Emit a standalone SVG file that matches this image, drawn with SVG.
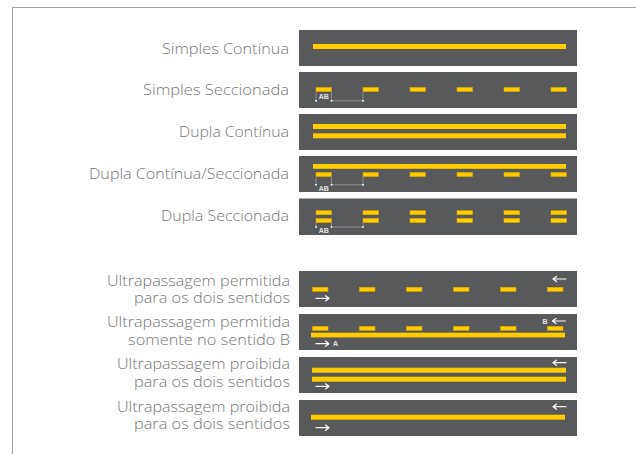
<svg xmlns="http://www.w3.org/2000/svg" width="636" height="454" viewBox="0 0 636 454">
<style>
.bg{fill:#ffffff}
.frame{fill:none;stroke:#a6a6a6;stroke-width:1}
.road{fill:#58595b}
.ln{fill:#ffcc00}
.dash{fill:#ffcc00;stroke:#e0a800;stroke-width:0.6}
.lbl{font-family:"Open Sans","Liberation Sans",sans-serif;font-weight:300;font-size:14px;fill:#767676;text-anchor:end}
.dim{fill:none;stroke:#9a9a9a;stroke-width:0.8}
.dot{fill:#ffffff}
.ab{font-family:"Liberation Sans","DejaVu Sans",sans-serif;font-weight:bold;font-size:7px;fill:#e6e6e6;text-anchor:middle}
.arr{fill:none;stroke:#ffffff;stroke-width:1.2;stroke-linecap:round;stroke-linejoin:round}
</style>
<defs>
<g id="dashrow">
<rect class="dash" x="0" y="0" width="15.5" height="4"/>
<rect class="dash" x="47" y="0" width="15.5" height="4"/>
<rect class="dash" x="94" y="0" width="15.5" height="4"/>
<rect class="dash" x="141" y="0" width="15.5" height="4"/>
<rect class="dash" x="188" y="0" width="15.5" height="4"/>
<rect class="dash" x="235" y="0" width="15.5" height="4"/>
</g>
<path id="ar" class="arr" d="M0,0 H13 M9.5,-2.6 L13,0 L9.5,2.6"/>
<path id="al" class="arr" d="M13,0 H0 M3.5,-2.6 L0,0 L3.5,2.6"/>
</defs>
<rect class="bg" width="636" height="454"/>
<rect class="frame" x="12.5" y="7.5" width="640" height="460"/>

<g id="row1">
<text class="lbl" x="289" y="54" textLength="127" lengthAdjust="spacingAndGlyphs">Simples Contínua</text>
<rect class="road" x="299" y="30" width="278" height="36"/>
<rect class="ln" x="313" y="44" width="253" height="5"/>
</g>

<g id="row2">
<text class="lbl" x="289" y="95" textLength="146" lengthAdjust="spacingAndGlyphs">Simples Seccionada</text>
<rect class="road" x="299" y="72" width="278" height="36"/>
<use href="#dashrow" x="316" y="87.5"/>
<path class="dim" d="M316,92 V100.8 M331.5,92 V100.8 M363,92 V100.8 M331.5,100.8 H363"/>
<rect class="dot" x="315.2" y="100" width="1.6" height="1.6"/>
<rect class="dot" x="330.7" y="100" width="1.6" height="1.6"/>
<rect class="dot" x="362.2" y="100" width="1.6" height="1.6"/>
<text class="ab" x="323.7" y="99">AB</text>
</g>

<g id="row3">
<text class="lbl" x="289" y="137" textLength="110" lengthAdjust="spacingAndGlyphs">Dupla Contínua</text>
<rect class="road" x="299" y="114" width="278" height="36"/>
<rect class="ln" x="313" y="124" width="253" height="5"/>
<rect class="ln" x="313" y="133.3" width="253" height="5"/>
</g>

<g id="row4">
<text class="lbl" x="289" y="179" textLength="200" lengthAdjust="spacingAndGlyphs">Dupla Contínua/Seccionada</text>
<rect class="road" x="299" y="156" width="278" height="36"/>
<rect class="ln" x="313" y="164" width="253" height="4.8"/>
<use href="#dashrow" x="316" y="172.5"/>
<path class="dim" d="M316,177 V184.8 M331.5,177 V184.8 M363,177 V184.8 M331.5,184.8 H363"/>
<rect class="dot" x="315.2" y="184" width="1.6" height="1.6"/>
<rect class="dot" x="330.7" y="184" width="1.6" height="1.6"/>
<rect class="dot" x="362.2" y="184" width="1.6" height="1.6"/>
<text class="ab" x="323.7" y="191">AB</text>
</g>

<g id="row5">
<text class="lbl" x="289" y="221" textLength="128" lengthAdjust="spacingAndGlyphs">Dupla Seccionada</text>
<rect class="road" x="299" y="198.5" width="278" height="36.5"/>
<use href="#dashrow" x="316" y="210.7"/>
<use href="#dashrow" x="316" y="218.5"/>
<path class="dim" d="M316,222.5 V227 M331.5,222.5 V227 M363,222.5 V227 M331.5,227 H363"/>
<rect class="dot" x="315.2" y="226.2" width="1.6" height="1.6"/>
<rect class="dot" x="330.7" y="226.2" width="1.6" height="1.6"/>
<rect class="dot" x="362.2" y="226.2" width="1.6" height="1.6"/>
<text class="ab" x="323.7" y="233">AB</text>
</g>

<g id="row6">
<text class="lbl" x="290" y="285.8" textLength="183" lengthAdjust="spacingAndGlyphs">Ultrapassagem permitida</text>
<text class="lbl" x="290" y="303" textLength="156" lengthAdjust="spacingAndGlyphs">para os dois sentidos</text>
<rect class="road" x="299" y="271" width="278" height="36"/>
<use href="#dashrow" x="312.5" y="287.3"/>
<use href="#al" x="553" y="279"/>
<use href="#ar" x="316" y="298.3"/>
</g>

<g id="row7">
<text class="lbl" x="290" y="327.2" textLength="183" lengthAdjust="spacingAndGlyphs">Ultrapassagem permitida</text>
<text class="lbl" x="290" y="344.5" textLength="162" lengthAdjust="spacingAndGlyphs">somente no sentido B</text>
<rect class="road" x="299" y="314" width="278" height="36"/>
<use href="#dashrow" x="312.5" y="326.3"/>
<rect class="ln" x="311" y="332.7" width="254" height="4.7"/>
<use href="#al" x="552.5" y="321"/>
<text class="ab" x="545" y="323.5">B</text>
<use href="#ar" x="316" y="343.7"/>
<text class="ab" x="335.5" y="346.2">A</text>
</g>

<g id="row8">
<text class="lbl" x="290" y="369.3" textLength="173" lengthAdjust="spacingAndGlyphs">Ultrapassagem proibida</text>
<text class="lbl" x="290" y="386.7" textLength="156" lengthAdjust="spacingAndGlyphs">para os dois sentidos</text>
<rect class="road" x="299" y="357" width="278" height="36"/>
<rect class="ln" x="312" y="367.7" width="254" height="5"/>
<rect class="ln" x="312" y="376.7" width="254" height="5"/>
<use href="#al" x="553" y="362.7"/>
<use href="#ar" x="316" y="386.3"/>
</g>

<g id="row9">
<text class="lbl" x="290" y="411.7" textLength="173" lengthAdjust="spacingAndGlyphs">Ultrapassagem proibida</text>
<text class="lbl" x="290" y="429" textLength="156" lengthAdjust="spacingAndGlyphs">para os dois sentidos</text>
<rect class="road" x="299" y="400" width="278" height="36"/>
<rect class="ln" x="311" y="414.7" width="254" height="5"/>
<use href="#al" x="553" y="406.7"/>
<use href="#ar" x="316" y="427.7"/>
</g>
</svg>
